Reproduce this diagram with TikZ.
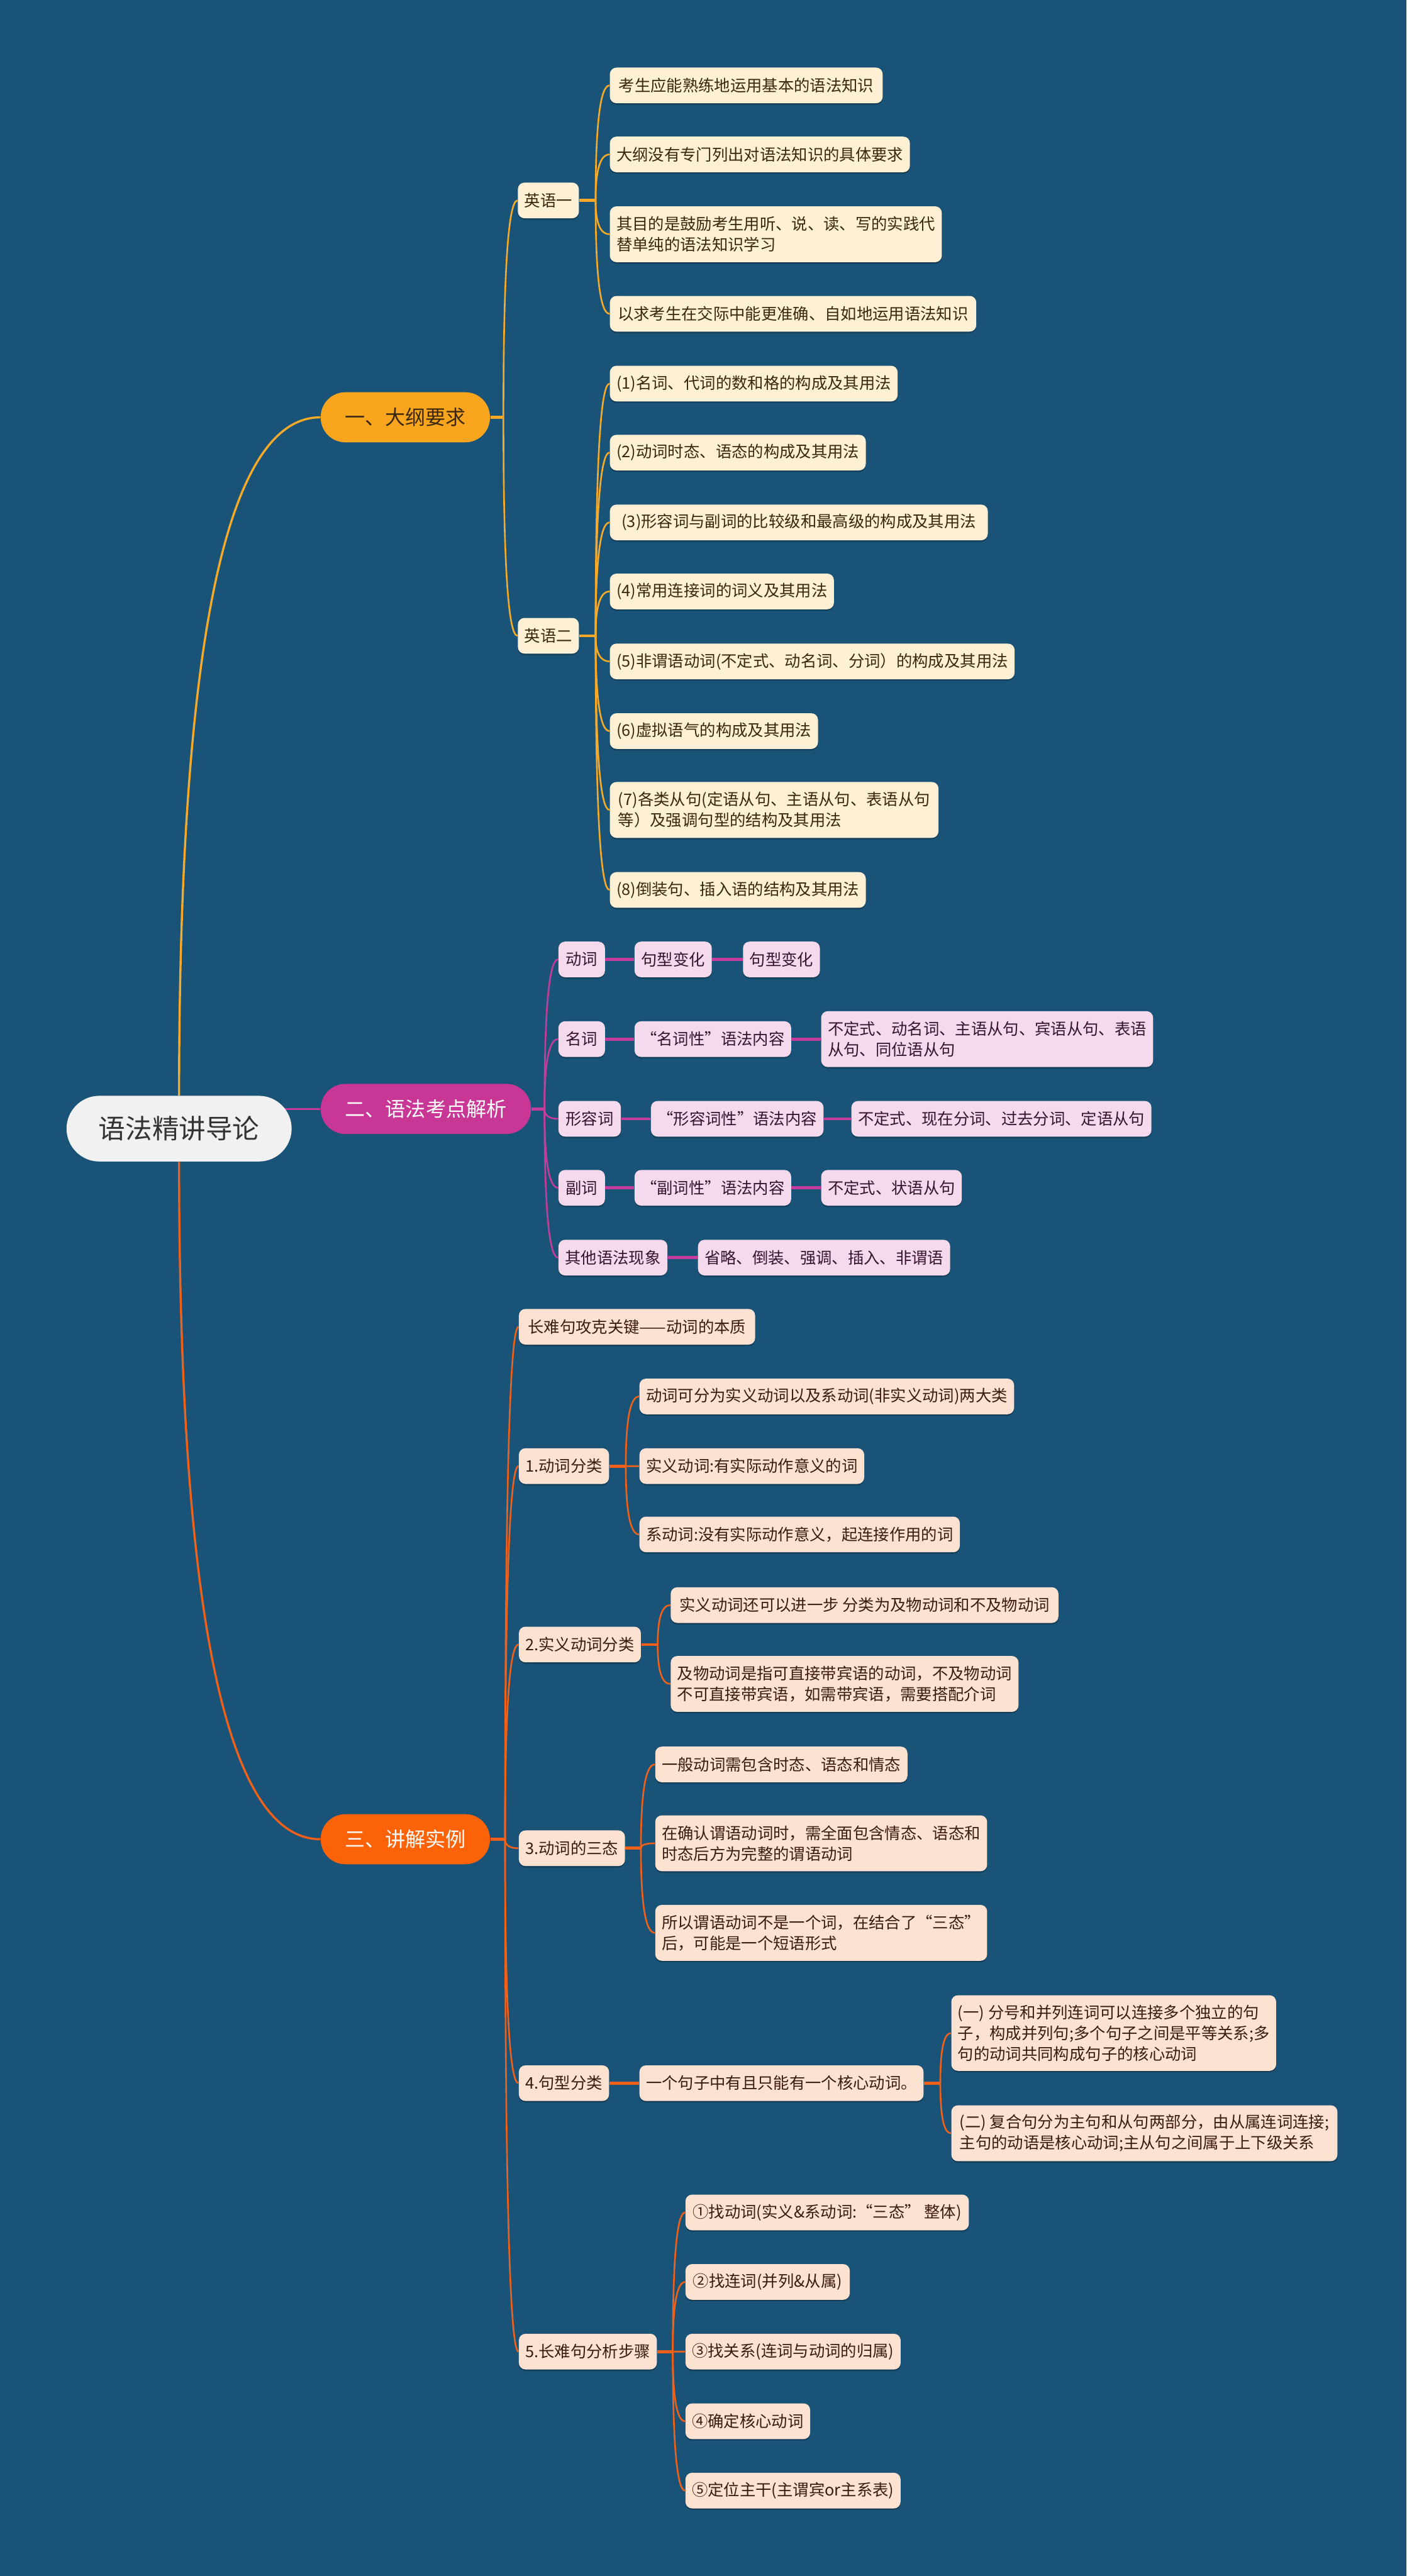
\documentclass[tikz,border=0pt]{standalone}
\usepackage{fontspec}
\setmainfont{Noto Sans CJK SC}
\usetikzlibrary{calc,shadows}
\definecolor{bgc}{RGB}{26,83,120}
\definecolor{rootfill}{RGB}{241,241,241}
\definecolor{roottext}{RGB}{51,51,51}
\definecolor{ya}{RGB}{250,165,30}
\definecolor{yaline}{RGB}{246,170,40}
\definecolor{mg}{RGB}{200,55,150}
\definecolor{mgline}{RGB}{196,60,156}
\definecolor{og}{RGB}{252,98,8}
\definecolor{ogline}{RGB}{240,96,24}
\definecolor{cream}{RGB}{253,240,212}
\definecolor{pinkf}{RGB}{245,218,238}
\definecolor{peach}{RGB}{253,226,210}
\definecolor{tbrown}{RGB}{58,40,14}
\definecolor{tplum}{RGB}{55,20,45}
\definecolor{tpeach}{RGB}{58,28,12}
\pgfdeclarelayer{bg}
\pgfdeclarelayer{lines}
\pgfsetlayers{bg,lines,main}
\newcommand\qc[3]{\draw[#1] (#2) .. controls ($(#2)!0.6667!(#2 |- #3)$) and ($(#3)!0.6667!(#2 |- #3)$) .. (#3);}
\begin{document}
\begin{tikzpicture}[x=1pt,y=-1pt,
  shad/.style={drop shadow={shadow xshift=0pt,shadow yshift=-0.9pt,opacity=0.25,fill=black}},
  rootn/.style={fill=rootfill,text=roottext,rounded corners=20pt,minimum width=137pt,minimum height=40pt,
     font=\fontsize{16.3}{18}\selectfont,inner sep=0pt},
  l1n/.style={rounded corners=15pt,minimum height=30.5pt,anchor=west,inner xsep=6pt,inner ysep=0pt,
     font=\fontsize{12.3}{14}\selectfont},
  leaf/.style={rounded corners=4pt,inner xsep=4pt,inner ysep=3pt,minimum height=21.7pt,anchor=west,
     align=left,font=\fontsize{9.7}{12.7}\selectfont,shad},
  two/.style={minimum height=34pt},
  three/.style={minimum height=46pt},
  cr/.style={leaf,fill=cream,text=tbrown},
  pk/.style={leaf,fill=pinkf,text=tplum},
  pc/.style={leaf,fill=peach,text=tpeach},
  yl/.style={draw=yaline,line width=1pt},
  ml/.style={draw=mgline,line width=1pt},
  ol/.style={draw=ogline,line width=1pt},
  stub/.style={line width=1.8pt}
]
\useasboundingbox (0,0) rectangle (856,1568);
\begin{pgfonlayer}{bg}
\fill[bgc] (0,0) rectangle (856,1568);
\end{pgfonlayer}

% root and main branches
\node[rootn] (root) at (109,687) {语法精讲导论};
\node[l1n,fill=ya,text=tbrown,minimum width=103pt] (A) at (195,254) {一、大纲要求};
\node[l1n,fill=mg,text=white,minimum width=128pt] (B) at (195,675) {二、语法考点解析};
\node[l1n,fill=og,text=white,minimum width=103pt] (C) at (195,1119.5) {三、讲解实例};

% branch 1
\node[cr,minimum width=37pt] (A1) at (315,122) {英语一};
\node[cr,minimum width=166pt] (A11) at (371,52) {考生应能熟练地运用基本的语法知识};
\node[cr,minimum width=181pt] (A12) at (371,94) {大纲没有专门列出对语法知识的具体要求};
\node[cr,two,minimum width=200pt] (A13) at (371,142.6) {其目的是鼓励考生用听、说、读、写的实践代\\替单纯的语法知识学习};
\node[cr,minimum width=223pt] (A14) at (371,191) {以求考生在交际中能更准确、自如地运用语法知识};
\node[cr,minimum width=37pt] (A2) at (315,387) {英语二};
\node[cr,minimum width=174pt] (A21) at (371,233.5) {(1)名词、代词的数和格的构成及其用法};
\node[cr,minimum width=155pt] (A22) at (371,275.5) {(2)动词时态、语态的构成及其用法};
\node[cr,minimum width=230pt] (A23) at (371,318) {(3)形容词与副词的比较级和最高级的构成及其用法};
\node[cr,minimum width=135.5pt] (A24) at (371,360) {(4)常用连接词的词义及其用法};
\node[cr,minimum width=245pt] (A25) at (371,402.6) {(5)非谓语动词(不定式、动名词、分词）的构成及其用法};
\node[cr,minimum width=126pt] (A26) at (371,445) {(6)虚拟语气的构成及其用法};
\node[cr,two,minimum width=200pt] (A27) at (371,493) {(7)各类从句(定语从句、主语从句、表语从句\\等）及强调句型的结构及其用法};
\node[cr,minimum width=155pt] (A28) at (371,541.7) {(8)倒装句、插入语的结构及其用法};

% branch 2
\node[pk,minimum width=28.3pt] (B1) at (339.7,584) {动词};
\node[pk,minimum width=47pt] (B1a) at (386,584) {句型变化};
\node[pk,minimum width=46.6pt] (B1b) at (452,584) {句型变化};
\node[pk,minimum width=28.3pt] (B2) at (339.7,632.5) {名词};
\node[pk,minimum width=95pt] (B2a) at (386,632.5) {“名词性”语法内容};
\node[pk,two,minimum width=199.4pt] (B2b) at (499.6,632.5) {不定式、动名词、主语从句、宾语从句、表语\\从句、同位语从句};
\node[pk,minimum width=38pt] (B3) at (339.7,681) {形容词};
\node[pk,minimum width=104.6pt] (B3a) at (396,681) {“形容词性”语法内容};
\node[pk,minimum width=181pt] (B3b) at (518,681) {不定式、现在分词、过去分词、定语从句};
\node[pk,minimum width=28.3pt] (B4) at (339.7,723) {副词};
\node[pk,minimum width=95pt] (B4a) at (386,723) {“副词性”语法内容};
\node[pk,minimum width=85.4pt] (B4b) at (499.6,723) {不定式、状语从句};
\node[pk,minimum width=66.3pt] (B5) at (339.7,765.5) {其他语法现象};
\node[pk,minimum width=152pt] (B5a) at (424.6,765.5) {省略、倒装、强调、插入、非谓语};

% branch 3
\node[pc,minimum width=143.8pt] (C0) at (315.6,807.6) {长难句攻克关键——动词的本质};
\node[pc,minimum width=54.4pt] (C1) at (315.6,892.4) {1.动词分类};
\node[pc,minimum width=228pt] (C1a) at (389,850) {动词可分为实义动词以及系动词(非实义动词)两大类};
\node[pc,minimum width=134.7pt] (C1b) at (389,892.4) {实义动词:有实际动作意义的词};
\node[pc,minimum width=192pt] (C1c) at (389,934) {系动词:没有实际动作意义，起连接作用的词};
\node[pc,minimum width=73.4pt] (C2) at (315.6,1001) {2.实义动词分类};
\node[pc,minimum width=236pt] (C2a) at (408,977) {实义动词还可以进一步 分类为及物动词和不及物动词};
\node[pc,two,minimum width=210.4pt] (C2b) at (408,1025) {及物动词是指可直接带宾语的动词，不及物动词\\不可直接带宾语，如需带宾语，需要搭配介词};
\node[pc,minimum width=64pt] (C3) at (315.6,1125) {3.动词的三态};
\node[pc,minimum width=151.4pt] (C3a) at (398.6,1074) {一般动词需包含时态、语态和情态};
\node[pc,two,minimum width=199.4pt] (C3b) at (398.6,1122) {在确认谓语动词时，需全面包含情态、语态和\\时态后方为完整的谓语动词};
\node[pc,two,minimum width=199.4pt] (C3c) at (398.6,1176.5) {所以谓语动词不是一个词，在结合了“三态”\\后，可能是一个短语形式};
\node[pc,minimum width=54.4pt] (C4) at (315.6,1268) {4.句型分类};
\node[pc,minimum width=170.7pt] (C4a) at (389,1268) {一个句子中有且只能有一个核心动词。};
\node[pc,three,minimum width=196.6pt] (C4a1) at (578.8,1237.5) {(一) 分号和并列连词可以连接多个独立的句\\子，构成并列句;多个句子之间是平等关系;多\\句的动词共同构成句子的核心动词};
\node[pc,two,minimum width=235pt] (C4a2) at (578.8,1298.5) {(二) 复合句分为主句和从句两部分，由从属连词连接;\\主句的动语是核心动词;主从句之间属于上下级关系};
\node[pc,minimum width=83.4pt] (C5) at (315.6,1431.4) {5.长难句分析步骤};
\node[pc,minimum width=172.5pt] (C5a) at (417,1346.7) {①找动词(实义\&系动词:“三态” 整体)};
\node[pc,minimum width=100pt] (C5b) at (417,1389) {②找连词(并列\&从属)};
\node[pc,minimum width=130pt] (C5c) at (417,1431.4) {③找关系(连词与动词的归属)};
\node[pc,minimum width=75.6pt] (C5d) at (417,1473.8) {④确定核心动词};
\node[pc,minimum width=130pt] (C5e) at (417,1516) {⑤定位主干(主谓宾or主系表)};

% connectors
\begin{pgfonlayer}{lines}
\qc{yl,line width=1.3pt}{root.north}{A.west}
\draw[ml,line width=1.3pt] (root.center |- B.west) -- (B.west);
\qc{ol,line width=1.3pt}{root.south}{C.west}

% branch 1
\coordinate (sA) at ($(A.east)+(8,0)$);
\draw[yl,stub] (A.east) -- (sA);
\foreach \n in {A1,A2} {\qc{yl}{sA}{\n.west}}
\coordinate (sA1) at ($(A1.east)+(10,0)$);
\draw[yl,stub] (A1.east) -- (sA1);
\foreach \n in {A11,A12,A13,A14} {\qc{yl}{sA1}{\n.west}}
\coordinate (sA2) at ($(A2.east)+(10,0)$);
\draw[yl,stub] (A2.east) -- (sA2);
\foreach \n in {A21,A22,A23,A24,A25,A26,A27,A28} {\qc{yl}{sA2}{\n.west}}

% branch 2
\coordinate (sB) at ($(B.east)+(8,0)$);
\draw[ml,stub] (B.east) -- (sB);
\foreach \n in {B1,B2,B3,B4,B5} {\qc{ml}{sB}{\n.west}}
\draw[ml,stub] (B1.east) -- (B1a.west);
\draw[ml,stub] (B1a.east) -- (B1b.west);
\draw[ml,stub] (B2.east) -- (B2a.west);
\draw[ml,stub] (B2a.east) -- (B2b.west);
\draw[ml,stub] (B3.east) -- (B3a.west);
\draw[ml,stub] (B3a.east) -- (B3b.west);
\draw[ml,stub] (B4.east) -- (B4a.west);
\draw[ml,stub] (B4a.east) -- (B4b.west);
\draw[ml,stub] (B5.east) -- (B5a.west);

% branch 3
\coordinate (sC) at ($(C.east)+(9,0)$);
\draw[ol,stub] (C.east) -- (sC);
\foreach \n in {C0,C1,C2,C3,C4,C5} {\qc{ol}{sC}{\n.west}}
\coordinate (sC1) at ($(C1.east)+(10,0)$);
\draw[ol,stub] (C1.east) -- (sC1);
\foreach \n in {C1a,C1b,C1c} {\qc{ol}{sC1}{\n.west}}
\coordinate (sC2) at ($(C2.east)+(10,0)$);
\draw[ol,stub] (C2.east) -- (sC2);
\foreach \n in {C2a,C2b} {\qc{ol}{sC2}{\n.west}}
\coordinate (sC3) at ($(C3.east)+(9.5,0)$);
\draw[ol,stub] (C3.east) -- (sC3);
\foreach \n in {C3a,C3b,C3c} {\qc{ol}{sC3}{\n.west}}
\draw[ol,stub] (C4.east) -- (C4a.west);
\coordinate (sC4) at ($(C4a.east)+(10,0)$);
\draw[ol,stub] (C4a.east) -- (sC4);
\foreach \n in {C4a1,C4a2} {\qc{ol}{sC4}{\n.west}}
\coordinate (sC5) at ($(C5.east)+(9.5,0)$);
\draw[ol,stub] (C5.east) -- (sC5);
\foreach \n in {C5a,C5b,C5c,C5d,C5e} {\qc{ol}{sC5}{\n.west}}
\end{pgfonlayer}
\end{tikzpicture}
\end{document}
